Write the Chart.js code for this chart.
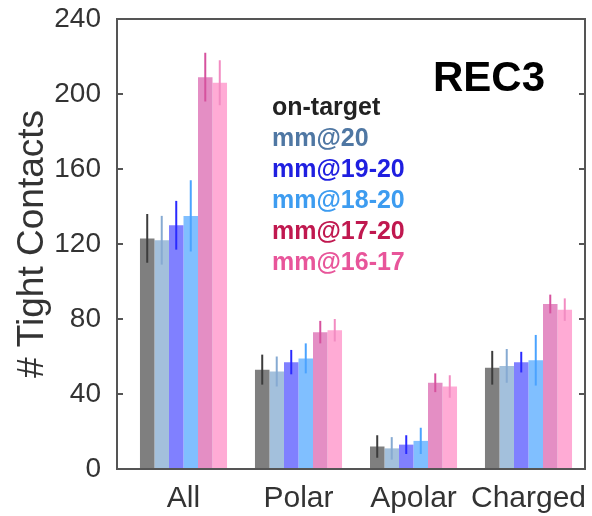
<!DOCTYPE html>
<html>
<head>
<meta charset="utf-8">
<script src="https://cdn.jsdelivr.net/npm/chart.js@4/dist/chart.umd.min.js"></script>
<style>
    body { margin: 0; background: #fff; }
</style>
</head>
<body>
<canvas id="chartCanvas" width="592" height="516"></canvas>
<script>
const categories = ["All", "Polar", "Apolar", "Charged"];
const seriesNames = ["on-target", "mm@20", "mm@19-20", "mm@18-20", "mm@17-20", "mm@16-17"];

// bar heights per category
const onTarget = [123, 53, 12, 54];
const mm20 = [122, 52, 11, 55];
const mm19to20 = [130, 57, 13, 57];
const mm18to20 = [135, 59, 15, 58];
const mm17to20 = [209, 73, 46, 88];
const mm16to17 = [206, 74, 44, 85];

// error bar half-lengths
const onTargetErr = [13, 8, 6, 9];
const mm20Err = [13, 8, 6, 9];
const mm19to20Err = [13, 6.5, 5, 5.5];
const mm18to20Err = [19, 8, 7, 13.5];
const mm17to20Err = [13, 6, 5, 5];
const mm16to17Err = [12, 6, 6, 6];

const yTicks = [0, 40, 80, 120, 160, 200, 240];

const fills = ["#7f7f7f", "#a3c0dc", "#8080ff", "#80bfff", "#e48ec4", "#ffabd5"];
const errColors = ["#3c3c3c", "#86aad2", "#2a2aff", "#4aa3ff", "#d6529e", "#f28cc2"];
const textColors = ["#222222", "#4f77a3", "#1f1fe0", "#3d9cf0", "#c0184f", "#e8559a"];

const values = [onTarget, mm20, mm19to20, mm18to20, mm17to20, mm16to17];
const errors = [onTargetErr, mm20Err, mm19to20Err, mm18to20Err, mm17to20Err, mm16to17Err];

const FONT = "'Liberation Sans', Arial, sans-serif";

const errorBars = {
    id: "errorBars",
    afterDatasetsDraw(chart) {
        const ctx = chart.ctx;
        const y = chart.scales.y;
        ctx.save();
        ctx.lineWidth = 2;
        chart.data.datasets.forEach((ds, i) => {
            const meta = chart.getDatasetMeta(i);
            meta.data.forEach((bar, j) => {
                const v = ds.data[j], e = errors[i][j];
                ctx.strokeStyle = errColors[i];
                ctx.beginPath();
                ctx.moveTo(bar.x, y.getPixelForValue(v + e));
                ctx.lineTo(bar.x, y.getPixelForValue(v - e));
                ctx.stroke();
            });
        });
        ctx.restore();
    }
};

const frame = {
    id: "frame",
    afterDraw(chart) {
        const ctx = chart.ctx;
        const a = chart.chartArea;
        const y = chart.scales.y;
        const left = a.left - 9, right = a.right - 1;
        ctx.save();
        ctx.strokeStyle = "#555";
        ctx.lineWidth = 2;
        ctx.strokeRect(left, a.top, right - left, a.bottom - a.top);
        yTicks.forEach(t => {
            const py = y.getPixelForValue(t);
            ctx.beginPath();
            ctx.moveTo(left, py); ctx.lineTo(left + 6, py);
            ctx.moveTo(right, py); ctx.lineTo(right - 6, py);
            ctx.stroke();
        });

        // legend text and panel label
        ctx.textBaseline = "middle";
        ctx.textAlign = "left";
        ctx.font = "bold 25px " + FONT;
        seriesNames.forEach((name, i) => {
            ctx.fillStyle = textColors[i];
            ctx.fillText(name, 272, 108 + i * 31);
        });
        ctx.font = "bold 42px " + FONT;
        ctx.fillStyle = "#000";
        ctx.fillText("REC3", 433, 79);
        ctx.restore();
    }
};

new Chart(document.getElementById("chartCanvas"), {
    type: "bar",
    data: {
        labels: categories,
        datasets: seriesNames.map((name, i) => ({
            label: name,
            data: values[i],
            backgroundColor: fills[i],
            borderWidth: 0,
            barPercentage: 1.0,
            categoryPercentage: 0.757
        }))
    },
    options: {
        responsive: false,
        animation: false,
        layout: { padding: { top: 19, right: 6, left: 0, bottom: 0 } },
        plugins: {
            legend: { display: false },
            tooltip: { enabled: false }
        },
        scales: {
            x: {
                grid: { display: false, drawTicks: false },
                border: { display: false },
                ticks: {
                    color: "#333", font: { family: FONT, size: 30 }, padding: 12,
                    maxRotation: 0, minRotation: 0, autoSkip: false
                },
                afterFit(scale) {
                    scale.height = 47;
                    scale.paddingLeft = 0;
                    scale.paddingRight = 0;
                }
            },
            y: {
                min: 0,
                max: 240,
                grid: { display: false, drawTicks: false },
                border: { display: false },
                ticks: { stepSize: 40, color: "#333", font: { family: FONT, size: 28 }, padding: 25 },
                title: {
                    display: true,
                    text: "# Tight Contacts",
                    color: "#333",
                    font: { family: FONT, size: 37 },
                    padding: { top: 11, bottom: 0 }
                },
                afterFit(scale) {
                    scale.width = 126;
                    scale.paddingTop = 0;
                    scale.paddingBottom = 0;
                }
            }
        }
    },
    plugins: [errorBars, frame]
});
</script>
</body>
</html>
